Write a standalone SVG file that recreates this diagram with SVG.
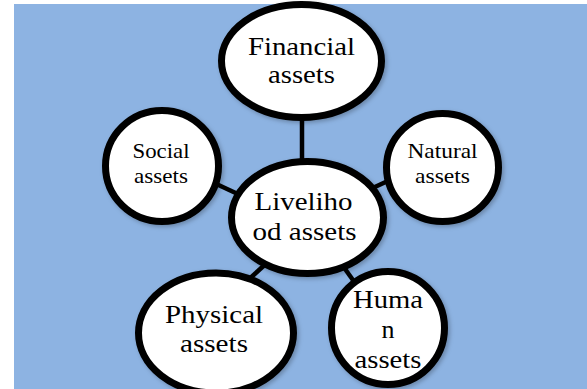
<svg xmlns="http://www.w3.org/2000/svg" width="587" height="389" viewBox="0 0 587 389">
  <style>
    .node ellipse { fill: #ffffff; stroke: #000000; stroke-width: 7; filter: url(#shadow); }
    .node text { font-family: "Liberation Serif", "Times New Roman", serif; fill: #000000; text-anchor: middle; }
    .big { font-size: 26px; }
    .small { font-size: 22px; }
    .link { stroke: #000000; stroke-width: 4.5; fill: none; }
  </style>
  <defs>
    <filter id="shadow" x="-20%" y="-20%" width="140%" height="140%">
      <feDropShadow dx="2" dy="2" stdDeviation="2" flood-color="#000000" flood-opacity="0.25"/>
    </filter>
  </defs>

  <!-- page and panel background -->
  <rect x="0" y="0" width="587" height="389" fill="#ffffff"/>
  <rect x="14" y="4" width="573" height="385" fill="#8DB3E2"/>

  <!-- connectors from the central node to each asset -->
  <g id="connectors">
    <line class="link" x1="302" y1="112" x2="302" y2="166"/>
    <line class="link" x1="212" y1="182" x2="240" y2="195"/>
    <line class="link" x1="390" y1="180" x2="364" y2="192"/>
    <line class="link" x1="246" y1="282" x2="270" y2="260"/>
    <line class="link" x1="338" y1="259" x2="360" y2="290"/>
  </g>

  <g id="financial" class="node">
    <ellipse cx="301.5" cy="61" rx="80" ry="56.5"/>
    <text class="big" x="301.5" y="55" style="font-size:25px" textLength="107" lengthAdjust="spacingAndGlyphs">Financial</text>
    <text class="big" x="301.5" y="83" style="font-size:25px" textLength="67" lengthAdjust="spacingAndGlyphs">assets</text>
  </g>

  <g id="social" class="node">
    <ellipse cx="162" cy="166" rx="56.5" ry="55.5"/>
    <text class="small" x="161" y="158" textLength="57" lengthAdjust="spacingAndGlyphs">Social</text>
    <text class="small" x="161" y="183" textLength="54" lengthAdjust="spacingAndGlyphs">assets</text>
  </g>

  <g id="natural" class="node">
    <ellipse cx="442.5" cy="167.5" rx="56" ry="54"/>
    <text class="small" x="442.5" y="158" textLength="70" lengthAdjust="spacingAndGlyphs">Natural</text>
    <text class="small" x="442.5" y="183" textLength="55" lengthAdjust="spacingAndGlyphs">assets</text>
  </g>

  <g id="livelihood" class="node">
    <ellipse cx="307.5" cy="217.5" rx="76" ry="56"/>
    <text class="big" x="303.5" y="210" textLength="98" lengthAdjust="spacingAndGlyphs">Liveliho</text>
    <text class="big" x="304.5" y="240" textLength="104" lengthAdjust="spacingAndGlyphs">od assets</text>
  </g>

  <g id="physical" class="node">
    <ellipse cx="216" cy="333" rx="77.5" ry="60"/>
    <text class="big" x="214" y="323" textLength="98" lengthAdjust="spacingAndGlyphs">Physical</text>
    <text class="big" x="214" y="352" textLength="68" lengthAdjust="spacingAndGlyphs">assets</text>
  </g>

  <g id="human" class="node">
    <ellipse cx="388" cy="328" rx="56.5" ry="56.5"/>
    <text class="big" x="388" y="308" textLength="70" lengthAdjust="spacingAndGlyphs">Huma</text>
    <text class="big" x="388" y="338">n</text>
    <text class="big" x="388" y="368" textLength="67" lengthAdjust="spacingAndGlyphs">assets</text>
  </g>
</svg>
